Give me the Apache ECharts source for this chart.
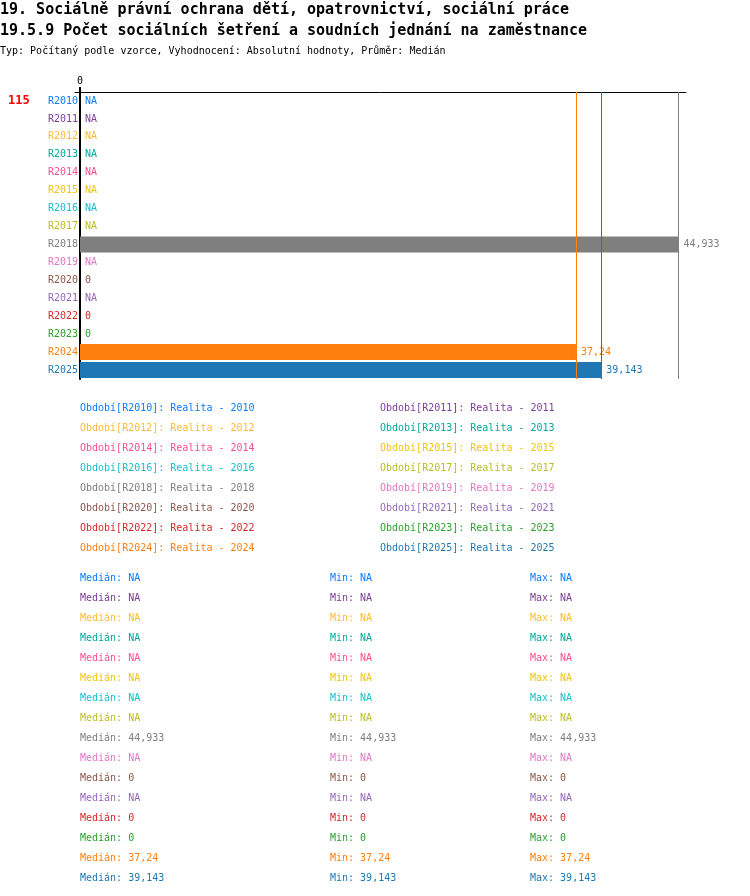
<!DOCTYPE html>
<html>
<head>
<meta charset="utf-8">
<script src="https://cdn.jsdelivr.net/npm/echarts@6/dist/echarts.min.js"></script>
<style>
html,body{margin:0;padding:0;background:#fff;}
#c{width:750px;height:896px;}
</style>
</head>
<body>
<div id="c"></div>
<script>
var titleLines = [
  '19. Sociálně právní ochrana dětí, opatrovnictví, sociální práce',
  '19.5.9 Počet sociálních šetření a soudních jednání na zaměstnance'
];
var subtitle = 'Typ: Počítaný podle vzorce, Vyhodnocení: Absolutní hodnoty, Průměr: Medián';
var rankLabel = '115';
var categories = ['R2010','R2011','R2012','R2013','R2014','R2015','R2016','R2017','R2018','R2019','R2020','R2021','R2022','R2023','R2024','R2025'];
var years = ['2010','2011','2012','2013','2014','2015','2016','2017','2018','2019','2020','2021','2022','2023','2024','2025'];
var values = [null,null,null,null,null,null,null,null,44.933,null,0,null,0,0,37.24,39.143];
var colors = ['#0a7cff','#7d3c98','#ffbb33','#00a99d','#ff4f8b','#f1c40f','#17becf','#bcbd22','#7f7f7f','#e377c2','#8c564b','#9467bd','#d62728','#2ca02c','#ff7f0e','#1f77b4'];
var xTickValues = [0];

var MONO = '"DejaVu Sans Mono", "Liberation Mono", monospace';
function fmt(v){ return v == null ? 'NA' : String(v).replace('.', ','); }

var chart = echarts.init(document.getElementById('c'), null, {renderer:'canvas'});

var barData = values.map(function(v,i){
  return {
    value: v == null ? 0 : v,
    itemStyle: {color: colors[i]},
    label: {color: colors[i]}
  };
});

// one invisible helper series per reference line so each keeps its own colour
var lineSeries = [];
values.forEach(function(v,i){
  if (v != null && v > 0) {
    lineSeries.push({
      type: 'line',
      data: [],
      silent: true,
      color: colors[i],
      markLine: {
        silent: true,
        symbol: ['none','none'],
        label: {show: false},
        lineStyle: {color: colors[i], width: 1, type: 'solid'},
        data: [{xAxis: v}]
      }
    });
  }
});

var graphics = [];
graphics.push({type:'text', x:0, y:10, style:{text:titleLines[0], font:'bold 15px '+MONO, fill:'#000', verticalAlign:'middle'}});
graphics.push({type:'text', x:0, y:31, style:{text:titleLines[1], font:'bold 15px '+MONO, fill:'#000', verticalAlign:'middle'}});
graphics.push({type:'text', x:0, y:51, style:{text:subtitle, font:'10px '+MONO, fill:'#000', verticalAlign:'middle'}});
graphics.push({type:'text', x:8, y:101, style:{text:rankLabel, font:'bold 12px '+MONO, fill:'#ff0000', verticalAlign:'middle'}});

categories.forEach(function(c,i){
  var col = i % 2, row = Math.floor(i/2);
  graphics.push({type:'text', x: col === 0 ? 80 : 380, y: 408 + row*20,
    style:{text:'Období[' + c + ']: Realita - ' + years[i], font:'10px '+MONO, fill:colors[i], verticalAlign:'middle'}});
});

categories.forEach(function(c,i){
  var v = values[i];
  var y = 578 + i*20;
  graphics.push({type:'text', x:80, y:y, style:{text:'Medián: ' + fmt(v), font:'10px '+MONO, fill:colors[i], verticalAlign:'middle'}});
  graphics.push({type:'text', x:330, y:y, style:{text:'Min: ' + fmt(v), font:'10px '+MONO, fill:colors[i], verticalAlign:'middle'}});
  graphics.push({type:'text', x:530, y:y, style:{text:'Max: ' + fmt(v), font:'10px '+MONO, fill:colors[i], verticalAlign:'middle'}});
});

chart.setOption({
  animation: false,
  textStyle: {fontFamily: MONO},
  grid: {left: 75, right: 64, top: 92, height: 287, containLabel: false},
  xAxis: {
    type: 'value',
    position: 'top',
    min: -0.375,
    max: 45.5,
    axisLine: {show: true, lineStyle: {color: '#000', width: 1}},
    axisTick: {show: true, customValues: xTickValues, length: 5, lineStyle: {color: '#000', width: 2}},
    axisLabel: {show: true, customValues: xTickValues, fontSize: 10, color: '#000', margin: 6, fontFamily: MONO},
    splitLine: {show: false}
  },
  yAxis: {
    type: 'category',
    inverse: true,
    data: categories,
    axisLine: {show: true, onZero: true, lineStyle: {color: '#000', width: 2}},
    axisTick: {show: false},
    axisLabel: {fontSize: 10, margin: -3, fontFamily: MONO, color: function(val, idx){ return colors[categories.indexOf(val)]; }}
  },
  series: [{
    type: 'bar',
    data: barData,
    barWidth: 16,
    label: {
      show: true,
      position: 'right',
      distance: 5,
      fontSize: 10,
      fontFamily: MONO,
      formatter: function(p){ return fmt(values[p.dataIndex]); }
    }
  }].concat(lineSeries),
  graphic: graphics
});
</script>
</body>
</html>
